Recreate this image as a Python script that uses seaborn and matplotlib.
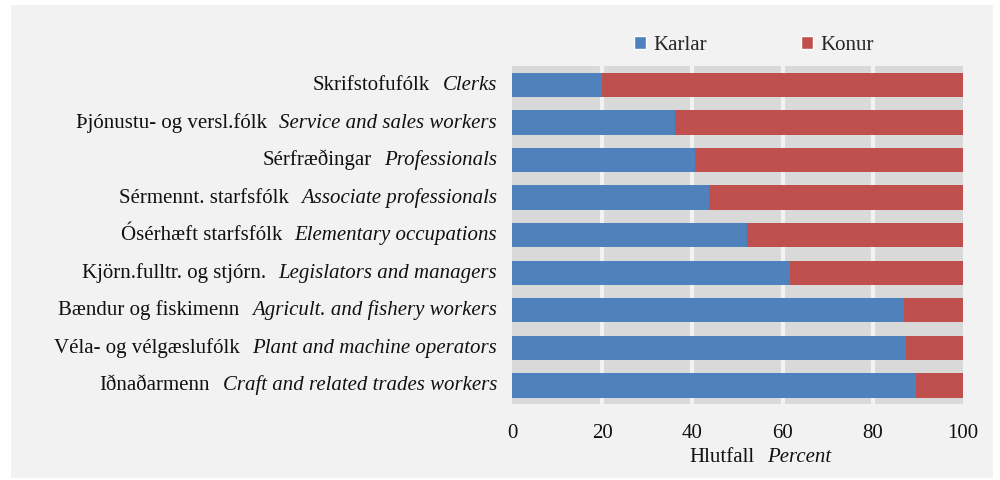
import matplotlib
matplotlib.use("Agg")
import matplotlib.pyplot as plt
from matplotlib.offsetbox import TextArea, HPacker, AnnotationBbox
from matplotlib.patches import Patch, Rectangle
import pandas as pd
import seaborn as sns

# DATA (top to bottom as in the chart)
groups_is = ['Skrifstofufólk', 'Þjónustu- og versl.fólk', 'Sérfræðingar',
             'Sérmennt. starfsfólk', 'Ósérhæft starfsfólk',
             'Kjörn.fulltr. og stjórn.', 'Bændur og fiskimenn',
             'Véla- og vélgæslufólk', 'Iðnaðarmenn']
groups_en = ['Clerks', 'Service and sales workers', 'Professionals',
             'Associate professionals', 'Elementary occupations',
             'Legislators and managers', 'Agricult. and fishery workers',
             'Plant and machine operators', 'Craft and related trades workers']
karlar = [20.0, 36.1, 40.6, 43.7, 52.0, 61.7, 87.0, 87.4, 89.5]
konur = [80.0, 63.9, 59.4, 56.3, 48.0, 38.3, 13.0, 12.6, 10.5]
xticks = [0, 20, 40, 60, 80, 100]

BLUE = '#4f81bd'
RED = '#c0504d'
TXT = '#111111'
FS = 15

df = pd.DataFrame({'group': groups_en, 'karlar': karlar, 'konur': konur})
df['total'] = df['karlar'] + df['konur']

sns.set_theme(style='white')
plt.rcParams['font.family'] = ['Liberation Serif', 'DejaVu Serif']

fig = plt.figure(figsize=(10, 4.8), dpi=100, facecolor='white')
# light grey chart panel
fig.patches.append(Rectangle((0.011, 0.004), 0.982, 0.985, transform=fig.transFigure,
                             facecolor='#f2f2f2', edgecolor='none', zorder=-5))
ax = fig.add_axes([0.512, 0.158, 0.451, 0.704])
ax.set_facecolor('#d9d9d9')

# stacked bars: total (Konur) underneath, Karlar on top
sns.barplot(data=df, x='total', y='group', orient='h', color=RED, width=0.65,
            saturation=1, linewidth=0, ax=ax, zorder=3)
sns.barplot(data=df, x='karlar', y='group', orient='h', color=BLUE, width=0.65,
            saturation=1, linewidth=0, ax=ax, zorder=4)

ax.set_xlim(0, 100)
ax.set_ylim(8.5, -0.5)
ax.set_xticks(xticks)
ax.set_xticklabels([str(t) for t in xticks], fontsize=FS, color=TXT)
ax.tick_params(axis='x', length=0, pad=14)
ax.set_yticks([])
ax.set_xlabel('')
ax.set_ylabel('')
for s in ax.spines.values():
    s.set_visible(False)
for t in xticks[1:-1]:
    ax.axvline(t, color='#f2f2f2', lw=3, zorder=2)

# mixed regular / italic category labels
for i, (a, b) in enumerate(zip(groups_is, groups_en)):
    box = HPacker(children=[TextArea(a, textprops=dict(fontsize=FS, color=TXT)),
                            TextArea(b, textprops=dict(fontsize=FS, style='italic', color=TXT))],
                  align='baseline', pad=0, sep=9)
    ab = AnnotationBbox(box, (-0.033, i), xycoords=('axes fraction', 'data'),
                        box_alignment=(1, 0.5), frameon=False, pad=0)
    ax.add_artist(ab)

# axis title, also mixed style
box = HPacker(children=[TextArea('Hlutfall', textprops=dict(fontsize=FS, color=TXT)),
                        TextArea('Percent', textprops=dict(fontsize=FS, style='italic', color=TXT))],
              align='baseline', pad=0, sep=9)
ab = AnnotationBbox(box, (0.76, 22 / 480), xycoords='figure fraction',
                    box_alignment=(0.5, 0.5), frameon=False, pad=0)
fig.add_artist(ab)

handles = [Patch(facecolor=BLUE, label='Karlar'), Patch(facecolor=RED, label='Konur')]
fig.legend(handles=handles, loc='center', bbox_to_anchor=(0.754, 0.906), ncol=2,
           frameon=False, fontsize=FS, handlelength=0.6, handleheight=0.6,
           handletextpad=0.35, columnspacing=4.5)

fig.savefig('out.png', dpi=100, facecolor='white')
